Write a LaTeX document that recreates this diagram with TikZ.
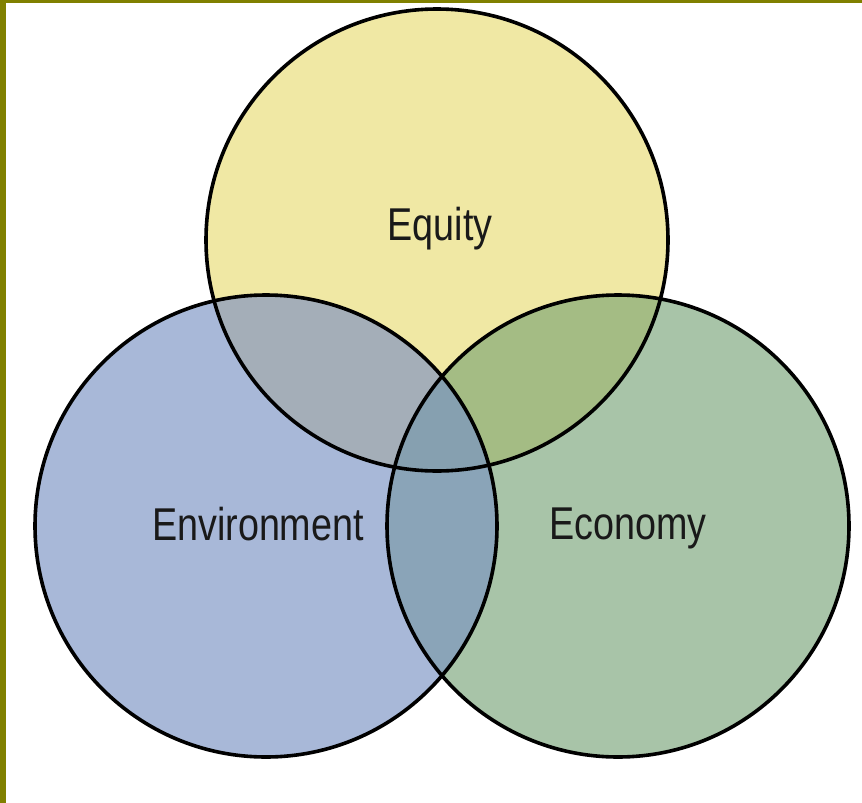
\documentclass[tikz,border=0pt]{standalone}
\usepackage{fontspec}
\setmainfont{Liberation Sans}
\definecolor{olivebar}{HTML}{808000}
\definecolor{eqy}{HTML}{F0E8A4}
\definecolor{env}{HTML}{A8B8D8}
\definecolor{eco}{HTML}{A8C4A8}
\definecolor{eqyenv}{HTML}{A4AEB8}
\definecolor{eqyeco}{HTML}{A4BC84}
\definecolor{enveco}{HTML}{8AA4B8}
\definecolor{mid}{HTML}{86A0B0}
\tikzset{ring/.append style={draw, circle, line width=1.8pt, minimum size=231pt, inner sep=0pt}}
\tikzset{lbl/.append style={font=\fontsize{23}{27}\selectfont, text=black!90, xscale=0.82}}
\begin{document}
\begin{tikzpicture}[x=0.5pt,y=-0.5pt]
                \useasboundingbox (0,0) rectangle (862,803);
                \fill[white] (0,0) rectangle (862,803);
                \fill[olivebar] (0,0) rectangle (862,3);
                \fill[olivebar] (0,0) rectangle (6,803);
                % centres
                \coordinate (eqc) at (437,240);
                \coordinate (envc) at (266,526);
                \coordinate (ecoc) at (618,526);
                % fills
                \fill[eqy] (eqc) circle (231);
                \fill[env] (envc) circle (231);
                \fill[eco] (ecoc) circle (231);
                \begin{scope}
                    \clip (eqc) circle (231);
                    \fill[eqyenv] (envc) circle (231);
                    \fill[eqyeco] (ecoc) circle (231);
                \end{scope}
                \begin{scope}
                    \clip (envc) circle (231);
                    \fill[enveco] (ecoc) circle (231);
                    \clip (ecoc) circle (231);
                    \fill[mid] (eqc) circle (231);
                \end{scope}
                % rings
                \node[ring] (eq) at (eqc) {};
                \node[ring] (en) at (envc) {};
                \node[ring] (ec) at (ecoc) {};
                % labels
                \node[lbl] (eqlbl) at (440,229) {Equity};
                \node[lbl] (enlbl) at (258,524) {Environment};
                \node[lbl] (eclbl) at (628,528) {Economy};
            \end{tikzpicture}
\end{document}
